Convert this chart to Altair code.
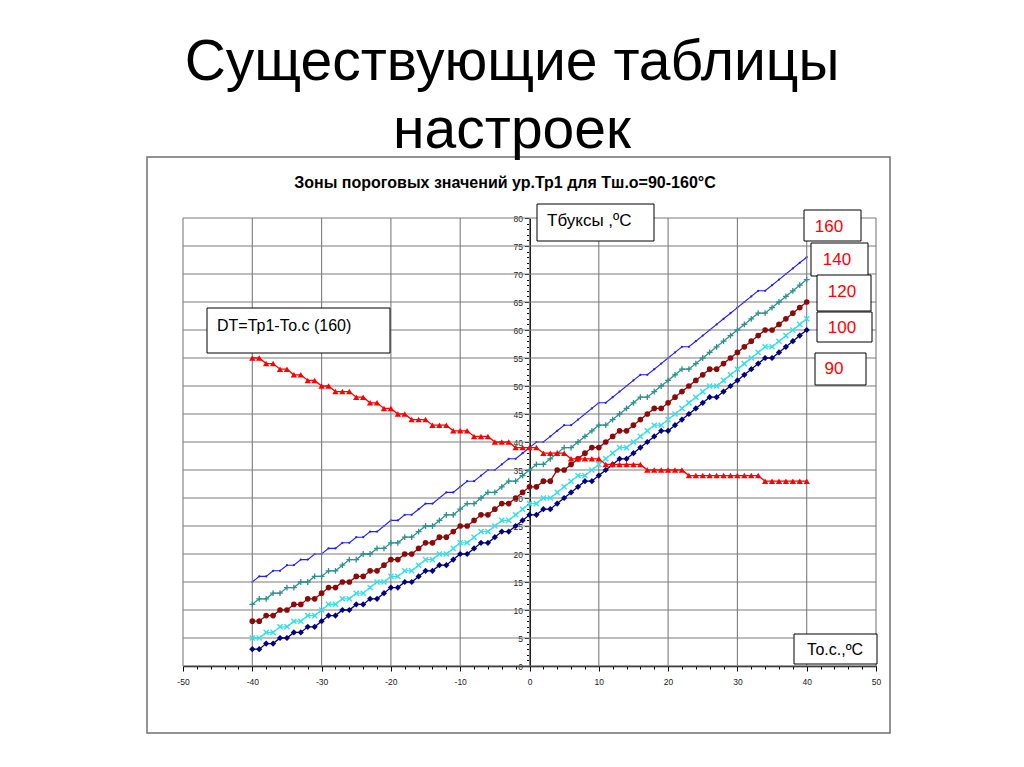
import altair as alt
import pandas as pd

# ---------------- data ----------------
xs = list(range(-40, 41))

t160 = [15, 16, 16, 17, 17, 18, 18, 19, 19, 20,
        20, 21, 21, 22, 22, 23, 23, 24, 24, 25,
        26, 26, 27, 27, 28, 29, 29, 30, 31, 31,
        32, 33, 33, 34, 35, 35, 36, 37, 37, 38,
        39, 40, 40, 41, 42, 43, 43, 44, 45, 46,
        47, 47, 48, 49, 50, 51, 52, 52, 53, 54,
        55, 56, 57, 57, 58, 59, 60, 61, 62, 63,
        64, 65, 66, 67, 67, 68, 69, 70, 71, 72,
        73]
t140 = [11, 12, 12, 13, 13, 14, 14, 15, 15, 16,
        16, 17, 17, 18, 19, 19, 20, 20, 21, 21,
        22, 22, 23, 23, 24, 25, 25, 26, 27, 27,
        28, 29, 29, 30, 31, 31, 32, 33, 33, 34,
        35, 36, 36, 37, 38, 39, 39, 40, 41, 42,
        43, 43, 44, 45, 46, 47, 48, 48, 49, 50,
        51, 52, 53, 53, 54, 55, 56, 57, 58, 59,
        60, 61, 62, 63, 63, 64, 65, 66, 67, 68,
        69]
t120 = [8, 8, 9, 9, 10, 10, 11, 11, 12, 12,
        13, 14, 14, 15, 15, 16, 16, 17, 17, 18,
        19, 19, 20, 20, 21, 22, 22, 23, 23, 24,
        25, 25, 26, 27, 27, 28, 29, 29, 30, 31,
        32, 32, 33, 33, 35, 35, 36, 37, 38, 39,
        39, 40, 41, 42, 42, 43, 44, 45, 46, 46,
        47, 48, 49, 50, 51, 52, 53, 53, 54, 55,
        56, 57, 58, 59, 60, 60, 61, 62, 63, 64,
        65]
t100 = [5, 5, 6, 6, 7, 7, 8, 8, 9, 9,
        10, 11, 11, 12, 12, 13, 13, 14, 15, 15,
        16, 16, 17, 17, 18, 19, 19, 20, 20, 21,
        22, 22, 23, 24, 24, 25, 26, 26, 27, 28,
        29, 29, 30, 30, 31, 32, 33, 34, 34, 35,
        36, 37, 38, 39, 39, 40, 41, 42, 43, 43,
        44, 45, 46, 47, 48, 49, 50, 50, 51, 52,
        53, 54, 55, 56, 57, 57, 58, 59, 60, 61,
        62]
t90 = [3, 3, 4, 4, 5, 5, 6, 6, 7, 7,
       8, 9, 9, 10, 10, 11, 11, 12, 12, 13,
       14, 14, 15, 15, 16, 17, 17, 18, 18, 19,
       20, 20, 21, 22, 22, 23, 24, 24, 25, 26,
       27, 27, 28, 28, 29, 30, 31, 32, 33, 33,
       34, 35, 36, 37, 37, 38, 39, 40, 41, 42,
       42, 43, 44, 45, 46, 47, 48, 48, 49, 50,
       51, 52, 53, 54, 55, 55, 56, 57, 58, 59,
       60]
dt160 = [55, 55, 54, 54, 53, 53, 52, 52, 51, 51,
         50, 50, 49, 49, 49, 48, 48, 47, 47, 46,
         46, 45, 45, 44, 44, 44, 43, 43, 43, 42,
         42, 42, 41, 41, 41, 40, 40, 40, 39, 39,
         39, 39, 38, 38, 38, 38, 37, 37, 37, 37,
         37, 36, 36, 36, 36, 36, 36, 35, 35, 35,
         35, 35, 35, 34, 34, 34, 34, 34, 34, 34,
         34, 34, 34, 34, 33, 33, 33, 33, 33, 33,
         33]

x_ticks = list(range(-50, 51, 2))
y_ticks = list(range(0, 81, 1))
x_grid = [-50, -40, -30, -20, -10, 0, 10, 20, 30, 40, 50]
y_grid = [0, 5, 10, 15, 20, 25, 30, 35, 40, 45, 50, 55, 60, 65, 70, 75, 80]

slide_title = ["Существующие таблицы", "настроек"]
chart_title = "Зоны пороговых значений ур.Тр1 для Тш.о=90-160°С"
y_label = "Тбуксы ,ºС"
x_label = "То.с.,ºС"
dt_label = "DT=Тр1-То.с (160)"
series_labels = ["160", "140", "120", "100", "90"]

# ---------------- layout ----------------
OX, OY = 183, 218          # page position of plot origin
W, H = 693, 448
FONT = "Liberation Sans"

xscale = alt.Scale(domain=[-50, 50], nice=False, zero=False)
yscale = alt.Scale(domain=[0, 80], nice=False, zero=False)

xaxis = alt.Axis(
    title=None, values=x_ticks, grid=False,
    labelExpr="datum.value % 10 === 0 ? '' + datum.value : ''",
    labelOverlap=False, labelFlush=False, labelFont=FONT, labelFontSize=8.5,
    labelColor="#222222", labelPadding=6,
    domainColor="#000000", domainWidth=1.3, tickColor="#000000",
    tickSize={"condition": {"test": "datum.value % 10 === 0", "value": 5}, "value": 3},
)
yaxis = alt.Axis(
    title=None, values=y_ticks, grid=False, offset=-W / 2,
    labelExpr="datum.value % 5 === 0 ? '' + datum.value : ''",
    labelOverlap=False, labelFlush=False, labelFont=FONT, labelFontSize=8.5,
    labelColor="#222222", labelPadding=2,
    domainColor="#000000", domainWidth=1.8, tickColor="#000000",
    tickSize={"condition": {"test": "datum.value % 5 === 0", "value": 5}, "value": 3},
)


def X(field="x"):
    return alt.X(f"{field}:Q", scale=xscale, axis=xaxis)


def Y(field="y"):
    return alt.Y(f"{field}:Q", scale=yscale, axis=yaxis)


one = alt.Data(values=[{"a": 1}])


def box(x1, y1, x2, y2, stroke="#000000", width=1.0, fill="#ffffff"):
    return alt.Chart(one).mark_rect(fill=fill, stroke=stroke, strokeWidth=width).encode(
        x=alt.value(x1 - OX), x2=alt.value(x2 - OX),
        y=alt.value(y1 - OY), y2=alt.value(y2 - OY))


def label(text, x, y, size, color="#000000", align="left", weight="normal",
          baseline="middle"):
    return alt.Chart(one).mark_text(
        text=text, align=align, baseline=baseline, fontSize=size, color=color,
        font=FONT, fontWeight=weight).encode(
        x=alt.value(x - OX), y=alt.value(y - OY))


# outer frame of the embedded chart
frame = box(147, 157, 890, 733, stroke="#6f6f6f", width=1.5, fill="transparent")


def series(values, color, shape, size, filled, sw=1.0, lw=1.3):
    df = pd.DataFrame({"x": xs, "y": values})
    base = alt.Chart(df)
    line = base.mark_line(color=color, strokeWidth=lw).encode(x=X(), y=Y())
    pts = base.mark_point(shape=shape, size=size, filled=filled, color=color,
                          strokeWidth=sw, opacity=1).encode(x=X(), y=Y())
    return line + pts


s160 = series(t160, "#1f1fff", "circle", 5, True, lw=1.1)
s140 = series(t140, "#2e9090", "M-1,0L1,0M0,-1L0,1", 34, False, sw=1.3)
s120 = series(t120, "#8b0a0a", "circle", 32, True)
s100 = series(t100, "#33e0e8", "M-1,-1L1,1M-1,1L1,-1", 26, False, sw=1.4)
s90 = series(t90, "#000080", "diamond", 38, True)
sdt = series(dt160, "#ff0000", "triangle-up", 40, True)

# grid lines (drawn through the same scales / axes as the series)
gx = alt.Chart(pd.DataFrame({"x": x_grid})).mark_rule(
    color="#7d7d7d", strokeWidth=1.1).encode(x=X())
gy = alt.Chart(pd.DataFrame({"y": y_grid})).mark_rule(
    color="#7d7d7d", strokeWidth=1.1).encode(y=Y())

annotations = [
    label(slide_title[0], 512, 80, 57, align="center", baseline="alphabetic"),
    label(slide_title[1], 512, 148, 57, align="center", baseline="alphabetic"),
    label(chart_title, 505, 183, 16, weight="bold", align="center"),
    box(537, 204, 654, 241), label(y_label, 547, 221, 17),
    box(207, 308, 390, 353), label(dt_label, 217, 326, 16),
    box(794, 634, 877, 664), label(x_label, 835, 650, 16, align="center"),
    box(804, 210, 861, 241), label(series_labels[0], 829, 227, 17, "#ff0000", "center"),
    box(811, 243, 868, 276), label(series_labels[1], 837, 260, 17, "#ff0000", "center"),
    box(817, 275, 871, 311), label(series_labels[2], 842, 292, 17, "#ff0000", "center"),
    box(817, 312, 872, 342), label(series_labels[3], 842, 328, 17, "#ff0000", "center"),
    box(815, 353, 866, 385), label(series_labels[4], 834, 369, 17, "#ff0000", "center"),
]

chart = alt.layer(
    frame, s160, gx, gy, s140, s120, s100, s90, sdt, *annotations
).properties(
    width=W, height=H,
    autosize=alt.AutoSizeParams(type="none"),
    padding={"left": OX - 8, "top": OY - 8, "right": 120, "bottom": 80},
    background="#ffffff",
).configure_view(strokeWidth=0)

chart.save("out.html", embed_options={"renderer": "svg", "actions": False})
